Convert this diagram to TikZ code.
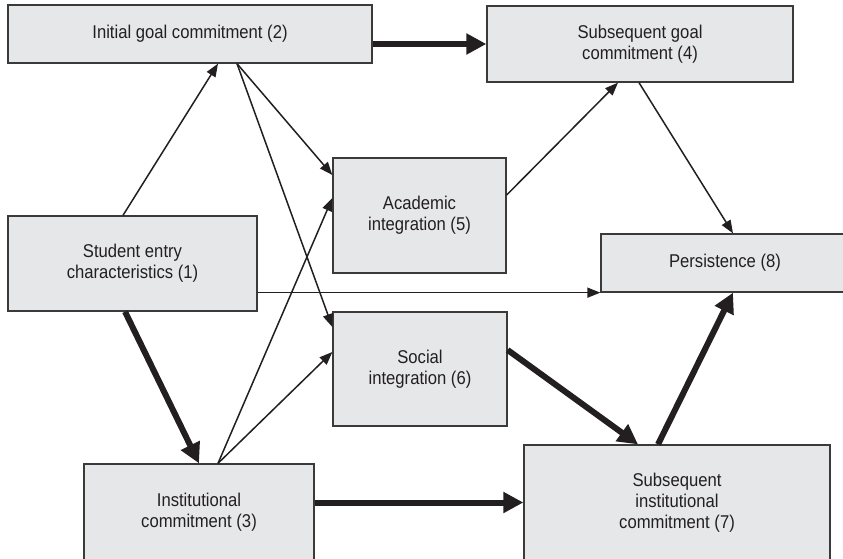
\documentclass[tikz,border=0pt]{standalone}
\usepackage{fontspec}
\setmainfont[FakeStretch=0.9]{Liberation Sans}
\usetikzlibrary{arrows.meta}
\definecolor{boxfill}{HTML}{E6E7E8}
\definecolor{boxline}{HTML}{3A3A3A}
\definecolor{ink}{HTML}{231F20}
\tikzset{
  box/.style={draw=boxline, line width=1.3pt, fill=boxfill, text=ink,
    align=center, inner sep=0pt, font=\fontsize{18.5}{21}\selectfont},
  thin/.style={draw=ink, line width=1.5pt, -{Triangle[length=13pt,width=10pt]}},
  thick/.style={draw=ink, line width=6pt, -{Triangle[length=20pt,width=20pt]}}
}
\begin{document}
\begin{tikzpicture}[x=1pt,y=-1pt]
\useasboundingbox (0,0) rectangle (843,559);
\clip (0,0) rectangle (843,559);
\fill[white] (0,0) rectangle (843,559);

\node[box, minimum width=364pt, minimum height=58pt] (n2) at (190,34) {Initial goal commitment (2)};
\node[box, minimum width=306pt, minimum height=76pt] (n4) at (640,44) {Subsequent goal\\commitment (4)};
\node[box, minimum width=173pt, minimum height=115pt] (n5) at (419.5,215.5) {Academic\\integration (5)};
\node[box, minimum width=249pt, minimum height=95pt] (n1) at (132.5,263.5) {Student entry\\characteristics (1)};
\node[box, minimum width=248pt, minimum height=58pt] (n8) at (725,263) {Persistence (8)};
\node[box, minimum width=174pt, minimum height=114pt] (n6) at (420,369) {Social\\integration (6)};
\node[box, minimum width=230pt, minimum height=96pt] (n3) at (199,512) {Institutional\\commitment (3)};
\node[box, minimum width=306pt, minimum height=115pt] (n7) at (677,502.5) {Subsequent\\institutional\\commitment (7)};

% thin arrows
\draw[thin] ([xshift=-9.5pt]n1.north) -- ([xshift=28pt]n2.south);
\draw[thin] ([xshift=47pt]n2.south) -- ([yshift=40.5pt]n5.west);
\draw[thin] ([xshift=47pt]n2.south) -- ([yshift=42pt]n6.west);
\draw[thin] ([xshift=19pt]n3.north) -- ([yshift=17.5pt]n5.west);
\draw[thin] ([xshift=19pt]n3.north) -- ([yshift=17pt]n6.west);
\draw[thin] ([yshift=20.5pt]n5.east) -- ([xshift=-22pt]n4.south);
\draw[thin] ([xshift=-1pt]n4.south) -- ([xshift=8pt]n8.north);
\draw[thin] (n1.east |- n8.south west) -- (n8.south west);

% thick arrows
\draw[thick] ([xshift=-7.5pt]n1.south) -- (n3.north);
\draw[thick] (n2.east |- n4.west) -- (n4.west);
\draw[thick] ([yshift=19pt]n6.east) -- ([xshift=-39pt]n7.north);
\draw[thick] ([xshift=-19pt]n7.north) -- ([xshift=8pt]n8.south);
\draw[thick] (n3.east |- n7.west) -- (n7.west);
\end{tikzpicture}
\end{document}
